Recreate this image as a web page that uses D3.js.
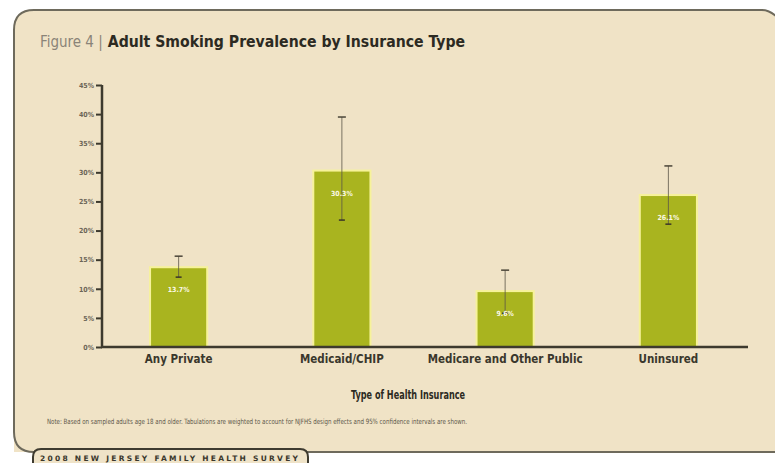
<!DOCTYPE html>
<html><head><meta charset="utf-8">
<script src="https://cdn.jsdelivr.net/npm/d3@7"></script>
<style>
html,body{margin:0;padding:0;background:#fff;}
svg{display:block;}
</style></head>
<body>
<svg id="c" width="775" height="463"></svg>
<script>
const categories = ["Any Private", "Medicaid/CHIP", "Medicare and Other Public", "Uninsured"];
const values = [13.7, 30.3, 9.6, 26.1];
const lowerCI = [12.0, 21.8, 5.8, 21.1];
const upperCI = [15.6, 39.5, 13.2, 31.1];
const yTicks = [0, 5, 10, 15, 20, 25, 30, 35, 40, 45];

const svg = d3.select("#c");
const font = "'Liberation Sans Narrow','DejaVu Sans Condensed','Roboto Condensed',sans-serif";

// panel
svg.append("path")
  .attr("d", "M14,452 L14,30 Q14,10 34,10 L762,10 Q772,10 776,16 L776,452 Z")
  .attr("fill", "#f0e3c6");
svg.append("path")
  .attr("d", "M778,18 Q770,10 762,10 L34,10 Q14,10 14,30 L14,432 Q14,452 34,452 L778,452")
  .attr("fill", "none").attr("stroke", "#6e6a5c").attr("stroke-width", 2);

// title
const fig = svg.append("text").attr("x", 40).attr("y", 47)
  .attr("font-family", font).attr("font-size", 15).attr("fill", "#8a8478")
  .text("Figure 4 |");
const figW = fig.node().getComputedTextLength();
const tx = 40 + figW + 5;
svg.append("text").attr("x", tx).attr("y", 47)
  .attr("font-family", font).attr("font-size", 16).attr("font-weight", "bold").attr("fill", "#2c2a22")
  .attr("textLength", 465 - tx).attr("lengthAdjust", "spacingAndGlyphs")
  .text("Adult Smoking Prevalence by Insurance Type");

const x = d3.scaleBand().domain(categories).range([97, 750]).paddingInner(0.65).paddingOuter(0.325);
const y = d3.scaleLinear().domain([0, 45]).range([347, 85]);

// y axis
const yAxis = d3.axisLeft(y).tickValues(yTicks).tickFormat(d => d + "%").tickSize(6).tickPadding(2);
const gy = svg.append("g").attr("transform", "translate(102,0)").call(yAxis);
gy.select(".domain").attr("stroke", "#3d3a2e").attr("stroke-width", 2.5).attr("d", "M0,85V347");
gy.selectAll(".tick line").attr("stroke", "#3d3a2e").attr("stroke-width", 2);
gy.selectAll(".tick text").attr("font-family", font).attr("font-size", 7)
  .attr("font-weight", "bold").attr("fill", "#6b6556");

// bars
const bw = x.bandwidth();
svg.selectAll("rect.bar").data(categories).enter().append("rect")
  .attr("class", "bar")
  .attr("x", d => x(d)).attr("width", bw)
  .attr("y", (d, i) => y(values[i])).attr("height", (d, i) => y(0) - y(values[i]))
  .attr("fill", "#a9b41f").attr("stroke", "#f6f29a").attr("stroke-width", 2);

// error bars
const eb = svg.append("g");
categories.forEach((c, i) => {
  const cx = x(c) + bw / 2;
  eb.append("line").attr("x1", cx).attr("x2", cx).attr("y1", y(upperCI[i])).attr("y2", y(lowerCI[i]))
    .attr("stroke", "#5a5548").attr("stroke-width", 0.8);
  eb.append("line").attr("x1", cx - 4).attr("x2", cx + 4).attr("y1", y(upperCI[i])).attr("y2", y(upperCI[i]))
    .attr("stroke", "#4a4538").attr("stroke-width", 1.5);
  eb.append("line").attr("x1", cx - 3).attr("x2", cx + 3).attr("y1", y(lowerCI[i])).attr("y2", y(lowerCI[i]))
    .attr("stroke", "#3a3528").attr("stroke-width", 1.5);
});

// value labels
svg.selectAll("text.val").data(categories).enter().append("text")
  .attr("x", d => x(d) + bw / 2).attr("y", (d, i) => y(values[i]) + 25)
  .attr("text-anchor", "middle").attr("font-family", font).attr("font-size", 7)
  .attr("font-weight", "bold").attr("fill", "#fbf8e6")
  .text((d, i) => values[i].toFixed(1) + "%");

// x axis
const xAxis = d3.axisBottom(x).tickSize(0).tickPadding(8);
const gx = svg.append("g").attr("transform", "translate(0,347)").call(xAxis);
gx.select(".domain").attr("stroke", "#3d3a2e").attr("stroke-width", 2.5).attr("d", "M101,0H748");
gx.selectAll(".tick text").attr("font-family", font).attr("font-size", 11.5)
  .attr("font-weight", "bold").attr("fill", "#3a372c");

// axis title
svg.append("text").attr("x", 408).attr("y", 399).attr("text-anchor", "middle")
  .attr("font-family", font).attr("font-size", 12).attr("font-weight", "bold").attr("fill", "#2c2a22")
  .attr("textLength", 114).attr("lengthAdjust", "spacingAndGlyphs")
  .text("Type of Health Insurance");

// note
svg.append("text").attr("x", 47).attr("y", 424)
  .attr("font-family", font).attr("font-size", 7.3).attr("fill", "#5c574a")
  .attr("textLength", 420).attr("lengthAdjust", "spacingAndGlyphs")
  .text("Note: Based on sampled adults age 18 and older. Tabulations are weighted to account for NJFHS design effects and 95% confidence intervals are shown.");

// footer tab
svg.append("path").attr("d", "M33,466 L33,457 Q33,449 41,449 L300,449 Q308,449 308,457 L308,466")
  .attr("fill", "#efe3c8").attr("stroke", "#3e3b30").attr("stroke-width", 2);
svg.append("text").attr("x", 40).attr("y", 461)
  .attr("font-family", "'DejaVu Sans',sans-serif").attr("font-size", 7.5).attr("font-weight", "bold")
  .attr("fill", "#3a372c")
  .attr("textLength", 258).attr("lengthAdjust", "spacing")
  .text("2008 NEW JERSEY FAMILY HEALTH SURVEY");
</script>
</body></html>
